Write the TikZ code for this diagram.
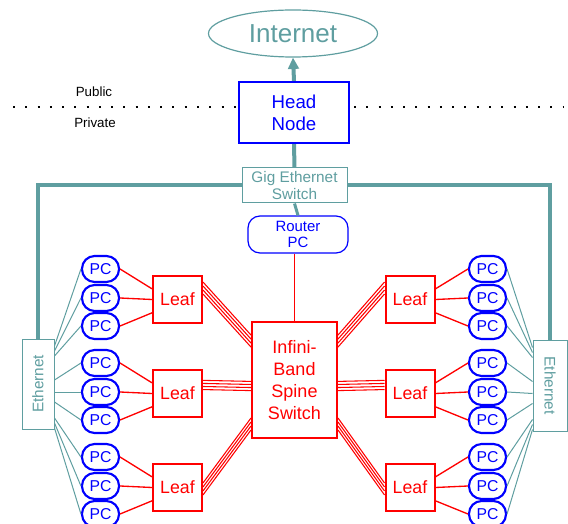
\documentclass[tikz,border=0pt]{standalone}
\usepackage{fontspec}
\setmainfont{Liberation Sans}
\usetikzlibrary{shapes.geometric,arrows.meta}

\begin{document}
\begin{tikzpicture}[x=0.75pt,y=0.75pt,yscale=-1,xscale=1,
  eth/.style={draw={rgb, 255:red, 95; green, 158; blue, 160}, text={rgb, 255:red, 95; green, 158; blue, 160}, line width=0.75pt, fill=white, inner sep=0pt},
  pc/.style={draw={rgb, 255:red, 0; green, 0; blue, 255}, text={rgb, 255:red, 0; green, 0; blue, 255}, line width=1.6pt, rounded corners=9.5pt, minimum width=27.75pt, minimum height=19.5pt, inner sep=0pt, font=\fontsize{11.8}{13}\selectfont},
  leaf/.style={draw={rgb, 255:red, 255; green, 0; blue, 0}, text={rgb, 255:red, 255; green, 0; blue, 0}, line width=1.5pt, minimum width=36.75pt, minimum height=35.25pt, inner sep=0pt, font=\fontsize{13.3}{15}\selectfont},
  trunk/.style={draw={rgb, 255:red, 95; green, 158; blue, 160}, line width=3pt},
  fan/.style={draw={rgb, 255:red, 95; green, 158; blue, 160}, line width=0.75pt},
  ib/.style={draw={rgb, 255:red, 255; green, 0; blue, 0}, line width=0.8pt},
  ]
\useasboundingbox (0,0) rectangle (568,524);

% top
\node[ellipse, draw={rgb, 255:red, 95; green, 158; blue, 160}, text={rgb, 255:red, 95; green, 158; blue, 160}, line width=0.9pt, minimum width=126.75pt, minimum height=35.25pt, inner sep=0pt, font=\fontsize{19.5}{21}\selectfont] (inet) at (293,33.5) {Internet};
\node[draw={rgb, 255:red, 0; green, 0; blue, 255}, text={rgb, 255:red, 0; green, 0; blue, 255}, line width=1.6pt, minimum width=82.5pt, minimum height=45.75pt, align=center, inner sep=0pt, font=\fontsize{14}{16.5}\selectfont] (head) at (294,112.5) {Head\\Node};
\node[eth, minimum width=78.75pt, minimum height=26.25pt, align=center, font=\fontsize{11.5}{12.5}\selectfont] (gig) at (294.5,185.5) {Gig Ethernet\\Switch};
\node[draw={rgb, 255:red, 0; green, 0; blue, 255}, text={rgb, 255:red, 0; green, 0; blue, 255}, line width=0.9pt, rounded corners=9pt, minimum width=75pt, minimum height=27.75pt, align=center, inner sep=0pt, font=\fontsize{11.2}{12}\selectfont] (router) at (298,234.5) {Router\\PC};
\node[draw={rgb, 255:red, 255; green, 0; blue, 0}, text={rgb, 255:red, 255; green, 0; blue, 0}, line width=1.5pt, minimum width=63.75pt, minimum height=87pt, align=center, inner sep=0pt, font=\fontsize{13.5}{16.5}\selectfont] (spine) at (294.5,380) {Infini-\\Band\\Spine\\Switch};

% public / private
\node[font=\fontsize{10}{11}\selectfont] (pub) at (94,92) {Public};
\node[font=\fontsize{10}{11}\selectfont] (priv) at (95,123) {Private};
\coordinate (bndL) at (13,107);
\coordinate (bndR) at (564,107);
\draw[line width=1.5pt, dash pattern={on 1.5pt off 7.7pt}] (bndL) -- (bndL -| head.west);
\draw[line width=1.5pt, dash pattern={on 1.5pt off 7.7pt}] ([xshift=3pt]head.east |- bndR) -- (bndR);

% ethernet boxes
\node[eth, minimum width=24pt, minimum height=67.5pt, font=\fontsize{11.5}{12}\selectfont] (ethL) at (38,384) {\rotatebox{90}{Ethernet}};
\node[eth, minimum width=25.5pt, minimum height=68.25pt, font=\fontsize{11.5}{12}\selectfont] (ethR) at (550,385.5) {\rotatebox{-90}{Ethernet}};

\draw[trunk, -{Triangle[length=8.5pt,width=8pt]}] (head.north) -- (inet.south);
\draw[trunk] (head.south) -- (gig.north);
\draw[trunk] (gig.west) -| (ethL.north);
\draw[trunk] (gig.east) -| (ethR.north);
\draw[trunk, line width=2.25pt] (gig.south) -- (router.north);
\draw[ib, line width=1pt] (spine.north |- router.south) -- (spine.north);

% leaves and pcs
\foreach \g/\y in {1/298,2/392,3/486} {
  \node[leaf] (leafL\g) at (177.5,{\y+1.5}) {Leaf};
  \node[leaf] (leafR\g) at (410,{\y+1.5}) {Leaf};
  \node[pc] (pcL\g1) at (100.5,{\y-29}) {PC};
  \node[pc] (pcL\g2) at (100.5,\y) {PC};
  \node[pc] (pcL\g3) at (100.5,{\y+28}) {PC};
  \node[pc] (pcR\g1) at (487.5,{\y-29}) {PC};
  \node[pc] (pcR\g2) at (487.5,\y) {PC};
  \node[pc] (pcR\g3) at (487.5,{\y+28}) {PC};
  \foreach \k/\s in {1/-8,2/0,3/10} {
    \draw[ib, line width=1pt] (pcL\g\k.east) -- ([yshift=\s pt]leafL\g.west);
    \draw[ib, line width=1pt] (pcR\g\k.west) -- ([yshift=\s pt]leafR\g.east);
  }
}

% infiniband bundles
\foreach \g/\a/\b/\d in {1/-8.6/-29.2/3, 2/-6.4/4.5/2.3, 3/1.1/33/3} {
  \foreach \s in {-1.5,-0.5,0.5,1.5} {
    \draw[ib] ([yshift={\a*1pt+\s*\d pt}]leafL\g.east) -- ([yshift={\b*1pt+\s*\d pt}]spine.west);
    \draw[ib] ([yshift={\a*1pt+\s*\d pt}]leafR\g.west) -- ([yshift={\b*1pt+\s*\d pt}]spine.east);
  }
}

% ethernet fans
\foreach \g/\a/\b/\c in {1/-38/-33/-28, 2/-4/8/18, 3/34/39/44} {
  \draw[fan] ([yshift={0.75pt*(\a)}]ethL.east) -- (pcL\g1.west);
  \draw[fan] ([yshift={0.75pt*(\b)}]ethL.east) -- (pcL\g2.west);
  \draw[fan] ([yshift={0.75pt*(\c)}]ethL.east) -- (pcL\g3.west);
  \draw[fan] ([yshift={0.75pt*(\a)}]ethR.west) -- (pcR\g1.east);
  \draw[fan] ([yshift={0.75pt*(\b)}]ethR.west) -- (pcR\g2.east);
  \draw[fan] ([yshift={0.75pt*(\c)}]ethR.west) -- (pcR\g3.east);
}

\end{tikzpicture}
\end{document}
